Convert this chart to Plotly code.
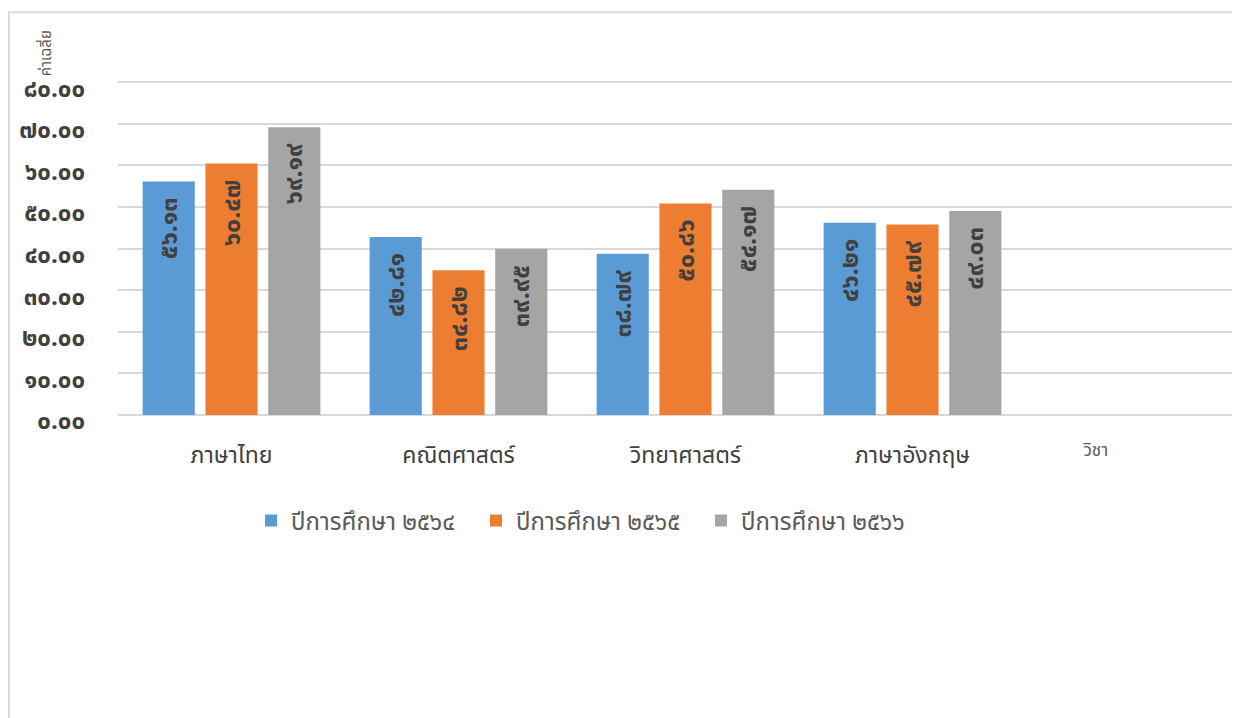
import plotly.graph_objects as go

categories = ["ภาษาไทย", "คณิตศาสตร์", "วิทยาศาสตร์", "ภาษาอังกฤษ"]
series_names = ["ปีการศึกษา ๒๕๖๔", "ปีการศึกษา ๒๕๖๕", "ปีการศึกษา ๒๕๖๖"]
values_2564 = [56.13, 42.81, 38.79, 46.21]
values_2565 = [60.47, 34.82, 50.86, 45.79]
values_2566 = [69.19, 39.95, 54.17, 49.03]
y_ticks = [0, 10, 20, 30, 40, 50, 60, 70, 80]
y_title = "ค่าเฉลี่ย"
x_title = "วิชา"

colors = ["#5b9bd5", "#ed7d31", "#a5a5a5"]
THAI_DIGITS = str.maketrans("0123456789", "๐๑๒๓๔๕๖๗๘๙")


def thai(v):
    return f"{v:.2f}".translate(THAI_DIGITS)


# page body has an 8px margin; work in reference-page pixels and convert
OFF = 8
W, H = 1240 - OFF, 718 - OFF
Y0_REF, Y80_REF = 415, 82           # reference pixel rows of 0 and 80
YMAX = 80.3
px_per_unit = (Y0_REF - Y80_REF) / 80.0
PLOT_TOP_REF = Y0_REF - YMAX * px_per_unit
ML = 118 - OFF
MR = 0
MT = PLOT_TOP_REF - OFF
MB = H - (Y0_REF - OFF)
PW, PH = W - ML - MR, H - MT - MB
CAT_W = 227.0

FONT = "Noto Sans Thai, Leelawadee UI, Tahoma, Noto Sans, sans-serif"

fig = go.Figure()
xs = list(range(len(categories)))
for name, vals, col in zip(series_names, [values_2564, values_2565, values_2566], colors):
    fig.add_trace(go.Bar(
        x=xs, y=vals, name=name,
        marker=dict(color=col, line=dict(width=0)),
        text=[thai(v) + "\u00a0\u00a0" for v in vals],
        textposition="inside",
        insidetextanchor="end",
        textangle=-90,
        textfont=dict(family=FONT, size=25, color="#404040", weight="bold"),
        hoverinfo="skip",
    ))


def px_x(p):
    return (p - OFF - ML) / PW


def px_y(p):
    return (H - MB - (p - OFF)) / PH


fig.update_layout(
    width=W, height=H, autosize=False,
    margin=dict(l=ML, r=MR, t=MT, b=MB, pad=0),
    paper_bgcolor="white", plot_bgcolor="white",
    barmode="group", bargap=0.17, bargroupgap=0.17,
    uniformtext=dict(minsize=25, mode="show"),
    font=dict(family=FONT, color="#595959"),
    showlegend=True,
    legend=dict(
        orientation="h", x=px_x(251), y=px_y(521),
        xanchor="left", yanchor="middle",
        font=dict(size=24, color="#595959"),
        entrywidth=180, entrywidthmode="pixels",
        itemsizing="constant", traceorder="normal",
        bgcolor="rgba(0,0,0,0)",
    ),
    xaxis=dict(
        range=[-0.5, -0.5 + PW / CAT_W],
        tickvals=xs, ticktext=categories,
        showgrid=False, zeroline=False, showline=False, ticks="",
        tickfont=dict(size=23, color="#404040", family=FONT),
        ticklabelstandoff=24,
    ),
    yaxis=dict(
        range=[0, YMAX],
        tickvals=y_ticks, ticktext=[thai(v) for v in y_ticks],
        showgrid=True, gridcolor="#d9d9d9", gridwidth=1.5,
        zeroline=True, zerolinecolor="#d9d9d9", zerolinewidth=2,
        showline=False, ticks="",
        tickfont=dict(size=24, color="#404040", family=FONT, weight="bold"),
        ticklabelstandoff=32,
        ticklabelshift=6,
    ),
    annotations=[
        dict(text=y_title, xref="paper", yref="paper", x=px_x(46), y=px_y(53),
             showarrow=False, textangle=-90, font=dict(size=15, color="#595959"),
             xanchor="center", yanchor="middle"),
        dict(text=x_title, xref="paper", yref="paper", x=px_x(1095), y=px_y(451),
             showarrow=False, font=dict(size=17, color="#595959"),
             xanchor="center", yanchor="middle"),
    ],
    shapes=[
        dict(type="line", xref="paper", yref="paper", x0=px_x(8), x1=px_x(1245),
             y0=px_y(12), y1=px_y(12), line=dict(color="#d9d9d9", width=2)),
        dict(type="line", xref="paper", yref="paper", x0=px_x(9), x1=px_x(9),
             y0=px_y(12), y1=px_y(725), line=dict(color="#d9d9d9", width=2)),
    ],
)

fig.write_html("out.html")
